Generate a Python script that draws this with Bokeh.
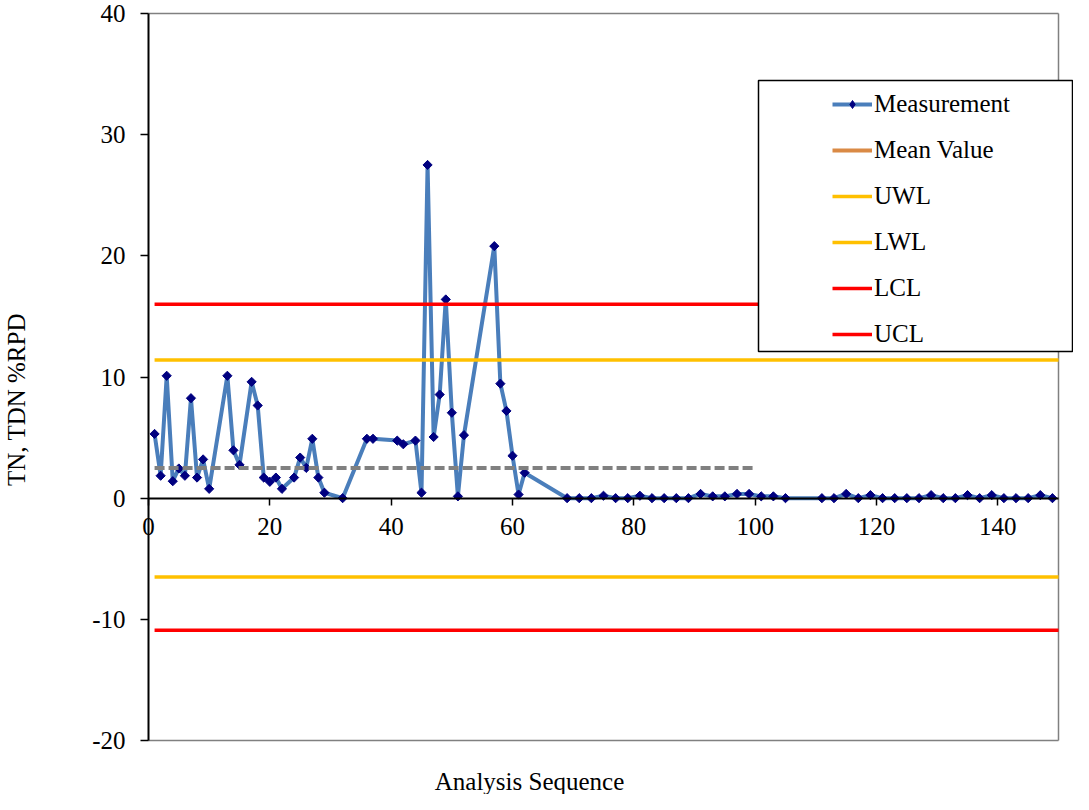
import math
from bokeh.plotting import figure
from bokeh.models import (Range1d, FixedTicker, Legend, LegendItem, BoxAnnotation,
                          Label, ColumnDataSource, CustomJSTickFormatter)
from bokeh.embed import file_html
from bokeh.resources import INLINE

# ---------------- data ----------------
seq = [1, 2, 3, 4, 5, 6, 7, 8, 9, 10, 13, 14, 15, 17, 18, 19, 20, 21, 22, 24,
       25, 26, 27, 28, 29, 32, 36, 37, 41, 42, 44, 45, 46, 47, 48, 49, 50, 51,
       52, 57, 58, 59, 60, 61, 62, 69, 71, 73, 75, 77, 79, 81, 83, 85, 87, 89,
       91, 93, 95, 97, 99, 101, 103, 105, 111, 113, 115, 117, 119, 121, 123,
       125, 127, 129, 131, 133, 135, 137, 139, 141, 143, 145, 147, 149]
rpd = [5.3, 1.85, 10.1, 1.4, 2.45, 1.85, 8.25, 1.7, 3.2, 0.77, 10.1, 3.95, 2.75,
       9.6, 7.65, 1.7, 1.35, 1.7, 0.77, 1.7, 3.35, 2.5, 4.9, 1.7, 0.45, 0.0,
       4.9, 4.9, 4.75, 4.45, 4.75, 0.45, 27.5, 5.05, 8.55, 16.4, 7.05, 0.15,
       5.2, 20.8, 9.45, 7.2, 3.5, 0.3, 2.1, 0.0, 0.0, 0.0, 0.2, 0.0, 0.0, 0.2,
       0.0, 0.0, 0.0, 0.0, 0.35, 0.15, 0.15, 0.35, 0.35, 0.15, 0.15, 0.0, 0.0,
       0.0, 0.35, 0.0, 0.25, 0.0, 0.0, 0.0, 0.0, 0.25, 0.0, 0.0, 0.25, 0.0,
       0.25, 0.0, 0.0, 0.0, 0.25, 0.0]

mean_x = [1, 100]
mean_rpd = [2.5, 2.5]
limit_x = [1, 150]
uwl = [11.4, 11.4]
lwl = [-6.5, -6.5]
lcl = [-10.9, -10.9]
ucl = [16.0, 16.0]

x_min, x_max = 0, 150
y_min, y_max = -20, 40
x_ticks = [0, 20, 40, 60, 80, 100, 120, 140]
y_ticks = [-20, -10, 0, 10, 20, 30, 40]

legend_labels = ["Measurement", "Mean Value", "UWL", "LWL", "LCL", "UCL"]
x_title = "Analysis Sequence"
y_title = "TN, TDN %RPD"

FONT = "Liberation Serif"
BLUE = "#4A7EBB"
NAVY = "#000080"
ORANGE = "#DA8A45"
YELLOW = "#FFC000"
RED = "#FF0000"
GREY = "#808080"
NAN = float("nan")

# ---------------- layout (pixels) ----------------
W, H = 1073, 794
AX_LEFT_PX, AX_RIGHT_PX = 148, 1058       # where x=0 and x=150 sit
AX_TOP_PX, AX_BOTTOM_PX = 13, 740         # where y=40 and y=-20 sit
ppx = (AX_RIGHT_PX - AX_LEFT_PX) / (x_max - x_min)
ppy = (AX_BOTTOM_PX - AX_TOP_PX) / (y_max - y_min)
xr = Range1d(x_min - AX_LEFT_PX / ppx, x_min + (W - AX_LEFT_PX) / ppx)
yr = Range1d(y_max - (H - AX_TOP_PX) / ppy, y_max + AX_TOP_PX / ppy)

p = figure(width=W, height=H, x_range=xr, y_range=yr,
           output_backend="svg", toolbar_location=None,
           min_border_left=0, min_border_right=0, min_border_top=0,
           min_border_bottom=0)
p.xgrid.visible = False
p.ygrid.visible = False
p.outline_line_color = None
p.background_fill_color = "white"
p.border_fill_color = "white"

fmt = CustomJSTickFormatter(code="return tick.toFixed(0);")

xa = p.xaxis[0]
xa.fixed_location = 0
xa.bounds = (x_min, x_max)
xa.ticker = FixedTicker(ticks=x_ticks)
xa.formatter = fmt
xa.axis_line_color = "black"
xa.axis_line_width = 2
xa.major_tick_line_color = "black"
xa.major_tick_line_width = 1.5
xa.major_tick_in = 0
xa.major_tick_out = 7
xa.minor_tick_line_color = None
xa.major_label_standoff = 13
xa.major_label_text_font = FONT
xa.major_label_text_font_size = "25px"
xa.major_label_text_color = "black"

ya = p.yaxis[0]
ya.fixed_location = 0
ya.bounds = (y_min, y_max)
ya.ticker = FixedTicker(ticks=y_ticks)
ya.formatter = fmt
ya.axis_line_color = "black"
ya.axis_line_width = 2
ya.major_tick_line_color = "black"
ya.major_tick_line_width = 1.5
ya.major_tick_in = 0
ya.major_tick_out = 8
ya.minor_tick_line_color = None
ya.major_label_standoff = 15
ya.major_label_text_font = FONT
ya.major_label_text_font_size = "25px"
ya.major_label_text_color = "black"

# plot-area border (grey) on top, right and bottom
p.segment(x0=[x_min, x_max, x_min], y0=[y_max, y_min, y_min],
          x1=[x_max, x_max, x_max], y1=[y_max, y_max, y_min],
          line_color=GREY, line_width=1.5)

src = ColumnDataSource(dict(x=seq, y=rpd))
r_meas_line = p.line("x", "y", source=src, line_color=BLUE, line_width=4)
p.scatter("x", "y", source=src, marker="square", angle=math.pi / 4,
          size=6.5, fill_color=NAVY, line_color=NAVY)
r_meas_leg = p.scatter([NAN], [NAN], marker="diamond", size=11,
                       fill_color=NAVY, line_color=NAVY)

r_mean = p.line(mean_x, mean_rpd, line_color=GREY, line_width=4, line_dash="10 4")
r_mean_leg = p.line([NAN, NAN], [NAN, NAN], line_color=ORANGE, line_width=4)
r_uwl = p.line(limit_x, uwl, line_color=YELLOW, line_width=3.5)
r_lwl = p.line(limit_x, lwl, line_color=YELLOW, line_width=3.5)
r_lcl = p.line(limit_x, lcl, line_color=RED, line_width=3.5)
r_ucl = p.line(limit_x, ucl, line_color=RED, line_width=3.5)

# legend box (screen px from bottom-left of the frame)
box = BoxAnnotation(left=758, right=1072, top=H - 80, bottom=H - 351,
                    left_units="screen", right_units="screen",
                    top_units="screen", bottom_units="screen",
                    fill_color="white", fill_alpha=1.0,
                    line_color="black", line_width=1.5, line_alpha=1.0)
p.add_layout(box)

items = [
    LegendItem(label=legend_labels[0], renderers=[r_meas_line, r_meas_leg]),
    LegendItem(label=legend_labels[1], renderers=[r_mean_leg]),
    LegendItem(label=legend_labels[2], renderers=[r_uwl]),
    LegendItem(label=legend_labels[3], renderers=[r_lwl]),
    LegendItem(label=legend_labels[4], renderers=[r_lcl]),
    LegendItem(label=legend_labels[5], renderers=[r_ucl]),
]
legend = Legend(items=items, location=(820, H - 360), padding=12, spacing=18,
                glyph_width=40, glyph_height=20, label_height=25, label_standoff=2,
                label_text_font=FONT, label_text_font_size="25px",
                label_text_color="black",
                border_line_alpha=0, background_fill_alpha=0,
                margin=0)
p.add_layout(legend)

p.add_layout(Label(x=529, y=H - 781, x_units="screen", y_units="screen",
                   text=x_title, text_align="center", text_baseline="middle",
                   text_font=FONT, text_font_size="25px", text_color="black"))
p.add_layout(Label(x=16, y=H - 399, x_units="screen", y_units="screen",
                   angle=math.pi / 2, text=y_title, text_align="center",
                   text_baseline="middle",
                   text_font=FONT, text_font_size="25px", text_color="black"))

open("out.html", "w").write(file_html(p, INLINE))
